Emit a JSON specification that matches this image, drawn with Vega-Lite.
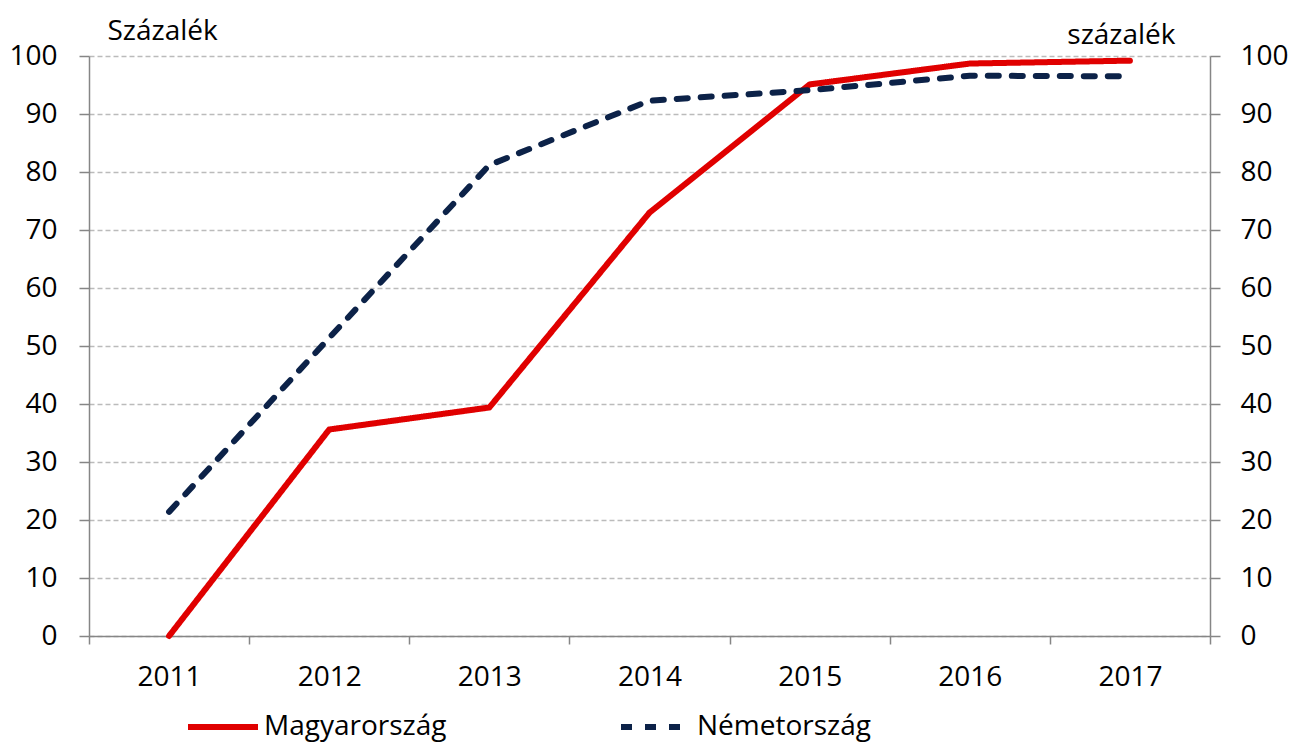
{
  "$schema": "https://vega.github.io/schema/vega-lite/v6.json",
  "width": 1121,
  "height": 580,
  "autosize": {"type": "none"},
  "padding": {"left": 89, "top": 56, "right": 80, "bottom": 106},
  "background": "white",
  "config": {
    "view": {"stroke": null},
    "font": "Open Sans",
    "axis": {
      "labelFont": "Open Sans",
      "labelFontSize": 28,
      "labelColor": "black",
      "titleFont": "Open Sans",
      "titleFontSize": 28,
      "titleFontWeight": "normal",
      "titleColor": "black",
      "domainColor": "#868686",
      "tickColor": "#868686",
      "domainWidth": 1.5,
      "tickWidth": 1.5
    },
    "legend": {"labelFont": "Open Sans", "labelLimit": 0}
  },
  "data": {
    "values": [
      {"year": "2011", "country": "Magyarország", "value": 0},
      {"year": "2012", "country": "Magyarország", "value": 35.6},
      {"year": "2013", "country": "Magyarország", "value": 39.4},
      {"year": "2014", "country": "Magyarország", "value": 73.0},
      {"year": "2015", "country": "Magyarország", "value": 95.1},
      {"year": "2016", "country": "Magyarország", "value": 98.7},
      {"year": "2017", "country": "Magyarország", "value": 99.2},
      {"year": "2011", "country": "Németország", "value": 21.4},
      {"year": "2012", "country": "Németország", "value": 51.4},
      {"year": "2013", "country": "Németország", "value": 81.2},
      {"year": "2014", "country": "Németország", "value": 92.3},
      {"year": "2015", "country": "Németország", "value": 94.1},
      {"year": "2016", "country": "Németország", "value": 96.6},
      {"year": "2017", "country": "Németország", "value": 96.5}
    ]
  },
  "encoding": {
    "x": {
      "field": "year",
      "type": "ordinal",
      "scale": {"type": "band", "paddingInner": 0, "paddingOuter": 0},
      "axis": {
        "title": null,
        "labelAngle": 0,
        "tickBand": "extent",
        "tickSize": 8,
        "labelPadding": 19,
        "grid": false
      }
    }
  },
  "layer": [
    {
      "mark": {"type": "line", "strokeWidth": 6, "strokeCap": "round", "strokeJoin": "round"},
      "encoding": {
        "y": {
          "field": "value",
          "type": "quantitative",
          "scale": {"domain": [0, 100], "nice": false},
          "axis": {
            "orient": "left",
            "values": [0, 10, 20, 30, 40, 50, 60, 70, 80, 90, 100],
            "title": "Százalék",
            "titleAngle": 0,
            "titleAlign": "left",
            "titleBaseline": "alphabetic",
            "titleX": 18,
            "titleY": -17,
            "grid": true,
            "gridDash": [5, 3],
            "gridColor": "#BBBBBB",
            "gridWidth": 1.5,
            "tickSize": 10,
            "labelPadding": 22
          }
        },
        "color": {
          "field": "country",
          "type": "nominal",
          "scale": {"domain": ["Magyarország", "Németország"], "range": ["#E00000", "#0C2248"]},
          "legend": {
            "title": null,
            "orient": "none",
            "direction": "horizontal",
            "legendX": 96,
            "legendY": 633,
            "symbolType": "stroke",
            "symbolSize": 4900,
            "symbolStrokeWidth": 6,
            "labelFontSize": 28,
            "labelColor": "black",
            "labelOffset": 3,
            "labelLimit": 0,
            "columnPadding": 162
          }
        },
        "strokeDash": {
          "field": "country",
          "type": "nominal",
          "scale": {"domain": ["Magyarország", "Németország"], "range": [[1, 0], [11, 13]]},
          "legend": {
            "title": null,
            "orient": "none",
            "direction": "horizontal",
            "legendX": 96,
            "legendY": 633,
            "symbolType": "stroke",
            "symbolSize": 4900,
            "symbolStrokeWidth": 6,
            "labelFontSize": 28,
            "labelColor": "black",
            "labelOffset": 3,
            "labelLimit": 0,
            "columnPadding": 162
          }
        }
      }
    },
    {
      "mark": {"type": "line", "opacity": 0},
      "encoding": {
        "detail": {"field": "country"},
        "y": {
          "field": "value",
          "type": "quantitative",
          "scale": {"domain": [0, 100], "nice": false},
          "axis": {
            "orient": "right",
            "values": [0, 10, 20, 30, 40, 50, 60, 70, 80, 90, 100],
            "title": "százalék",
            "titleAngle": 0,
            "titleAlign": "right",
            "titleBaseline": "alphabetic",
            "titleX": -35,
            "titleY": -13,
            "grid": false,
            "tickSize": 10,
            "labelPadding": 20
          }
        }
      }
    }
  ],
  "resolve": {"scale": {"y": "shared"}, "axis": {"y": "independent"}}
}
